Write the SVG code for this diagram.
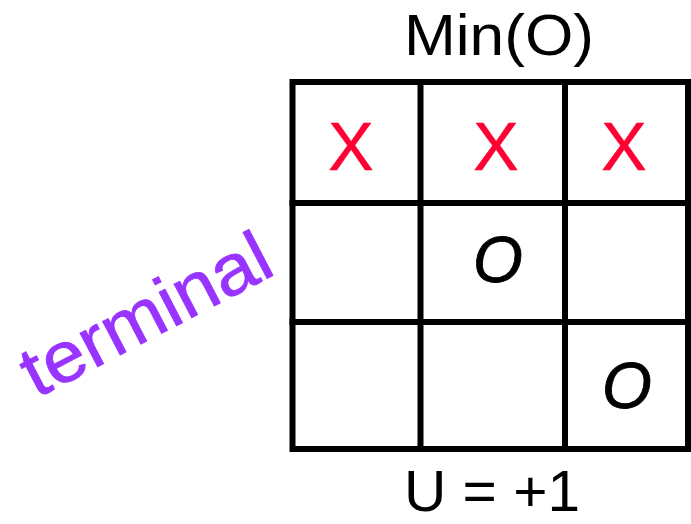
<svg xmlns="http://www.w3.org/2000/svg" width="691" height="524" viewBox="0 0 691 524">
<style>
.grid{stroke:#000;stroke-width:6;fill:none;stroke-linecap:square}
.lbl{font-family:"Liberation Sans",Arial,sans-serif;font-size:58px;fill:#000;text-anchor:middle}
.x{font-family:"Liberation Sans",Arial,sans-serif;font-size:68px;fill:#FF0033;stroke:#FF0033;stroke-width:0.5;stroke-linejoin:round;text-anchor:middle}
.o{font-family:"Liberation Sans",Arial,sans-serif;font-style:italic;font-size:64px;fill:#000;stroke:#000;stroke-width:0.8;text-anchor:middle}
.term{font-family:"Liberation Sans",Arial,sans-serif;font-size:72px;fill:#9933FF;stroke:#9933FF;stroke-width:0.8;stroke-linejoin:round;text-anchor:middle}
</style>
<rect width="691" height="524" fill="#fff"/>
<g id="board">
<rect class="grid" x="292.5" y="82" width="395.5" height="367"/>
<line class="grid" x1="420.5" y1="82" x2="420.5" y2="449"/>
<line class="grid" x1="565" y1="82" x2="565" y2="449"/>
<line class="grid" x1="292.5" y1="203" x2="688" y2="203"/>
<line class="grid" x1="292.5" y1="322" x2="688" y2="322"/>
</g>
<g id="marks">
<text class="x" x="351" y="170">X</text>
<text class="x" x="496" y="170">X</text>
<text class="x" x="624" y="170">X</text>
<text class="o" x="498" y="282">O</text>
<text class="o" x="627" y="408">O</text>
</g>
<g id="labels">
<text class="lbl" x="499" y="55" textLength="190" lengthAdjust="spacingAndGlyphs">Min(O)</text>
<text class="lbl" x="492" y="511" textLength="176" lengthAdjust="spacingAndGlyphs">U = +1</text>
<text class="term" transform="translate(157,336) rotate(-27.5)" x="0" y="0" textLength="272" lengthAdjust="spacingAndGlyphs">terminal</text>
</g>
</svg>
